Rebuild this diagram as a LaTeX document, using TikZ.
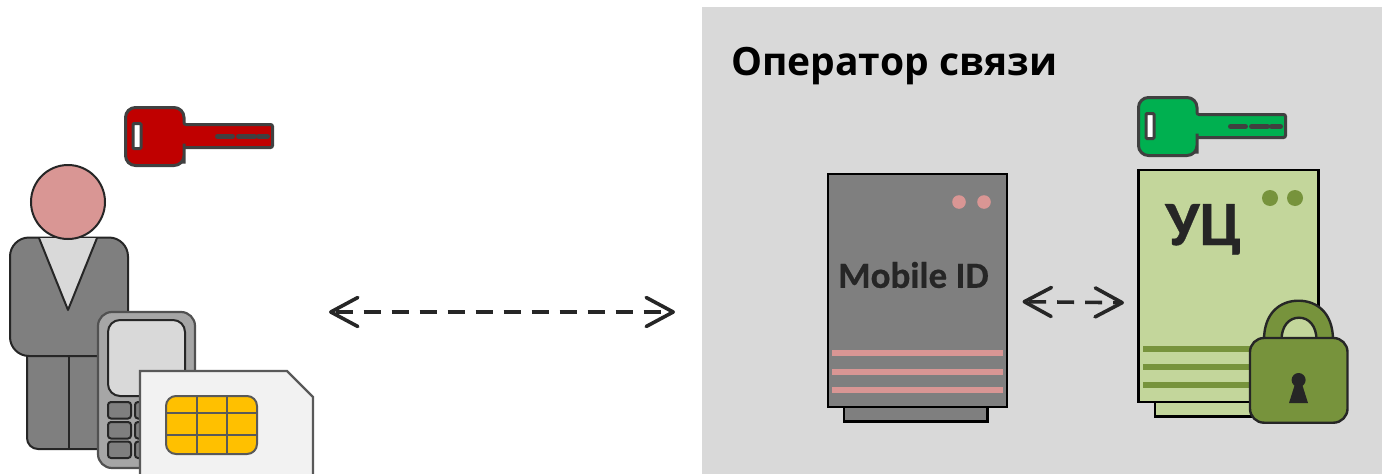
\documentclass[tikz,border=0pt]{standalone}
\usepackage{fontspec}
\setmainfont{Carlito}
\newfontfamily\titlefont{Open Sans}
\newfontfamily\heavyfont{Carlito Bold}[FakeBold=0.5]
\usetikzlibrary{arrows.meta}
\definecolor{grayBg}{HTML}{D9D9D9}
\definecolor{suit}{HTML}{7F7F7F}
\definecolor{pinkc}{HTML}{D99694}
\definecolor{phonec}{HTML}{A6A6A6}
\definecolor{simc}{HTML}{F2F2F2}
\definecolor{simline}{HTML}{595959}
\definecolor{chipc}{HTML}{FFC000}
\definecolor{keyred}{HTML}{C00000}
\definecolor{keygreen}{HTML}{00B050}
\definecolor{keyline}{HTML}{404040}
\definecolor{lightg}{HTML}{C3D69B}
\definecolor{darkg}{HTML}{77933C}
\definecolor{inkc}{HTML}{262626}
\tikzset{
  x=1pt,y=-1pt,
  person/.style={draw=inkc,line width=2pt,fill=suit},
  phonekey/.style={draw=inkc,line width=2pt,fill=suit,rounded corners=3},
  rack/.style={draw=black,line width=2.4pt,inner sep=0pt},
  barp/.style={fill=pinkc,draw=none},
  barg/.style={fill=darkg,draw=none},
  biarrow/.style={draw=inkc,line width=3.6pt,dash pattern=on 17pt off 11pt,dash phase=25pt,
    {Straight Barb[length=27pt,width=29pt,line width=3.6pt,round]}-{Straight Barb[length=27pt,width=29pt,line width=3.6pt,round]}},
  keypic/.pic={
    \path[draw=keyline,line width=3pt,fill=#1,rounded corners=10]
      (58.5,12) -- (58.5,0) -- (0,0) -- (0,58) -- (58.5,58) -- (58.5,46)
      [rounded corners=2] -- (58.5,40) -- (147,40) -- (147,17) -- (58.5,17) -- cycle;
    \draw[keyline,line width=3pt,fill=white,rounded corners=1] (7.5,16) rectangle (15.5,41);
    \draw[keyline,line width=5pt,line cap=round] (92,29) -- (107,29) (113,29) -- (129,29) (133,29) -- (142,29);
  }
}
\begin{document}
\begin{tikzpicture}
\useasboundingbox (0,0) rectangle (1382,474);
% operator background
\fill[grayBg] (702,7) rectangle (1382,474);
\node[font=\titlefont\bfseries,inner sep=0pt,anchor=base west,text=black] (title) at (731,75) {\fontsize{39}{39}\selectfont Оператор связи};
% keys
\pic at (125.5,107.5) {keypic=keyred};
\pic at (1138.5,97.5) {keypic=keygreen};
% person
\draw[person,rounded corners=11] (27,340) -- (27,449) -- (115,449) -- (115,340);
\draw[inkc,line width=2pt] (69,356) -- (69,449);
\draw[person,rounded corners=19] (10,237.5) rectangle (128,356);
\fill[grayBg] (39,238) -- (97,238) -- (68,310) -- cycle;
\draw[inkc,line width=2pt,line join=round] (39,238) -- (68,310) -- (97,238);
\draw[inkc,line width=2pt,fill=pinkc] (68,202) circle (37);
% phone
\draw[draw=inkc!80,line width=2.2pt,fill=phonec,rounded corners=14] (98,312) rectangle (195,468);
\draw[draw=inkc,line width=2pt,fill=grayBg,rounded corners=12] (108,320) rectangle (185,396);
\foreach \yy in {402,422,441.5}{
  \draw[phonekey] (108,\yy) rectangle (131,\yy+16.5);
  \draw[phonekey] (135,\yy) rectangle (158,\yy+16.5);
}
% SIM
\path[fill=simc,draw=simline,line width=2.2pt] (140,474) -- (140,371) -- (287,371) -- (313,397) -- (313,474);
\draw[simline,line width=2pt,fill=chipc,rounded corners=10] (166,396) rectangle (257,454);
\draw[simline,line width=2pt] (196.5,396) -- (196.5,454) (227,396) -- (227,454) (165,413) -- (257,413) (165,434.5) -- (257,434.5);
% Mobile ID server
\draw[rack,fill=suit] (844,400) rectangle (987.5,421.5);
\node[rack,fill=suit,minimum width=179pt,minimum height=233pt] (mobile) at (917.5,290.5) {};
\node[font=\heavyfont,text=inkc,inner sep=0pt] (mobiletext) at (913.5,275) {\fontsize{37}{37}\selectfont Mobile ID};
\fill[pinkc] (959,202) circle (6.8) (984,202) circle (6.8);
\foreach \yy in {353,372,390}{\fill[barp] (832,\yy-3) rectangle (1003,\yy+3);}
% CA server
\draw[rack,fill=lightg] (1155,395) rectangle (1262,416.5);
\node[rack,fill=lightg,minimum width=180pt,minimum height=232pt] (ca) at (1228.5,286) {};
\node[font=\heavyfont,text=inkc,inner sep=0pt,anchor=base west] (catext) at (1165,245) {\fontsize{63}{63}\selectfont УЦ};
\fill[darkg] (1270,198) circle (8) (1295,198) circle (8);
\foreach \yy in {348.7,367,385}{\fill[barg] (1143,\yy-3) rectangle (1260,\yy+3);}
% lock
\path[draw=inkc,line width=2.4pt,fill=darkg]
  (1264,340) .. controls (1264,313) and (1280,300.7) .. (1298.5,300.7) .. controls (1317,300.7) and (1333,313) .. (1333,340) -- (1316.5,340)
  .. controls (1316.5,326) and (1309,317.7) .. (1299,317.7) .. controls (1289,317.7) and (1281.5,326) .. (1281.5,340) -- cycle;
\draw[inkc,line width=2.4pt,fill=darkg,rounded corners=14] (1250,338) rectangle (1347.5,422.7);
\fill[black!85] (1298.6,380) circle (7);
\fill[black!85] (1295,384) -- (1302,384) -- (1308,403) -- (1289,403) -- cycle;
% connectors
\coordinate (bigL) at (329,312);
\coordinate (bigR) at (675,312);
\coordinate (smallL) at (1022.5,301.7);
\coordinate (smallR) at (1124,302.7);
\draw[biarrow] (bigL) -- (bigR);
\draw[biarrow] (smallL) -- (smallR);
\end{tikzpicture}
\end{document}
